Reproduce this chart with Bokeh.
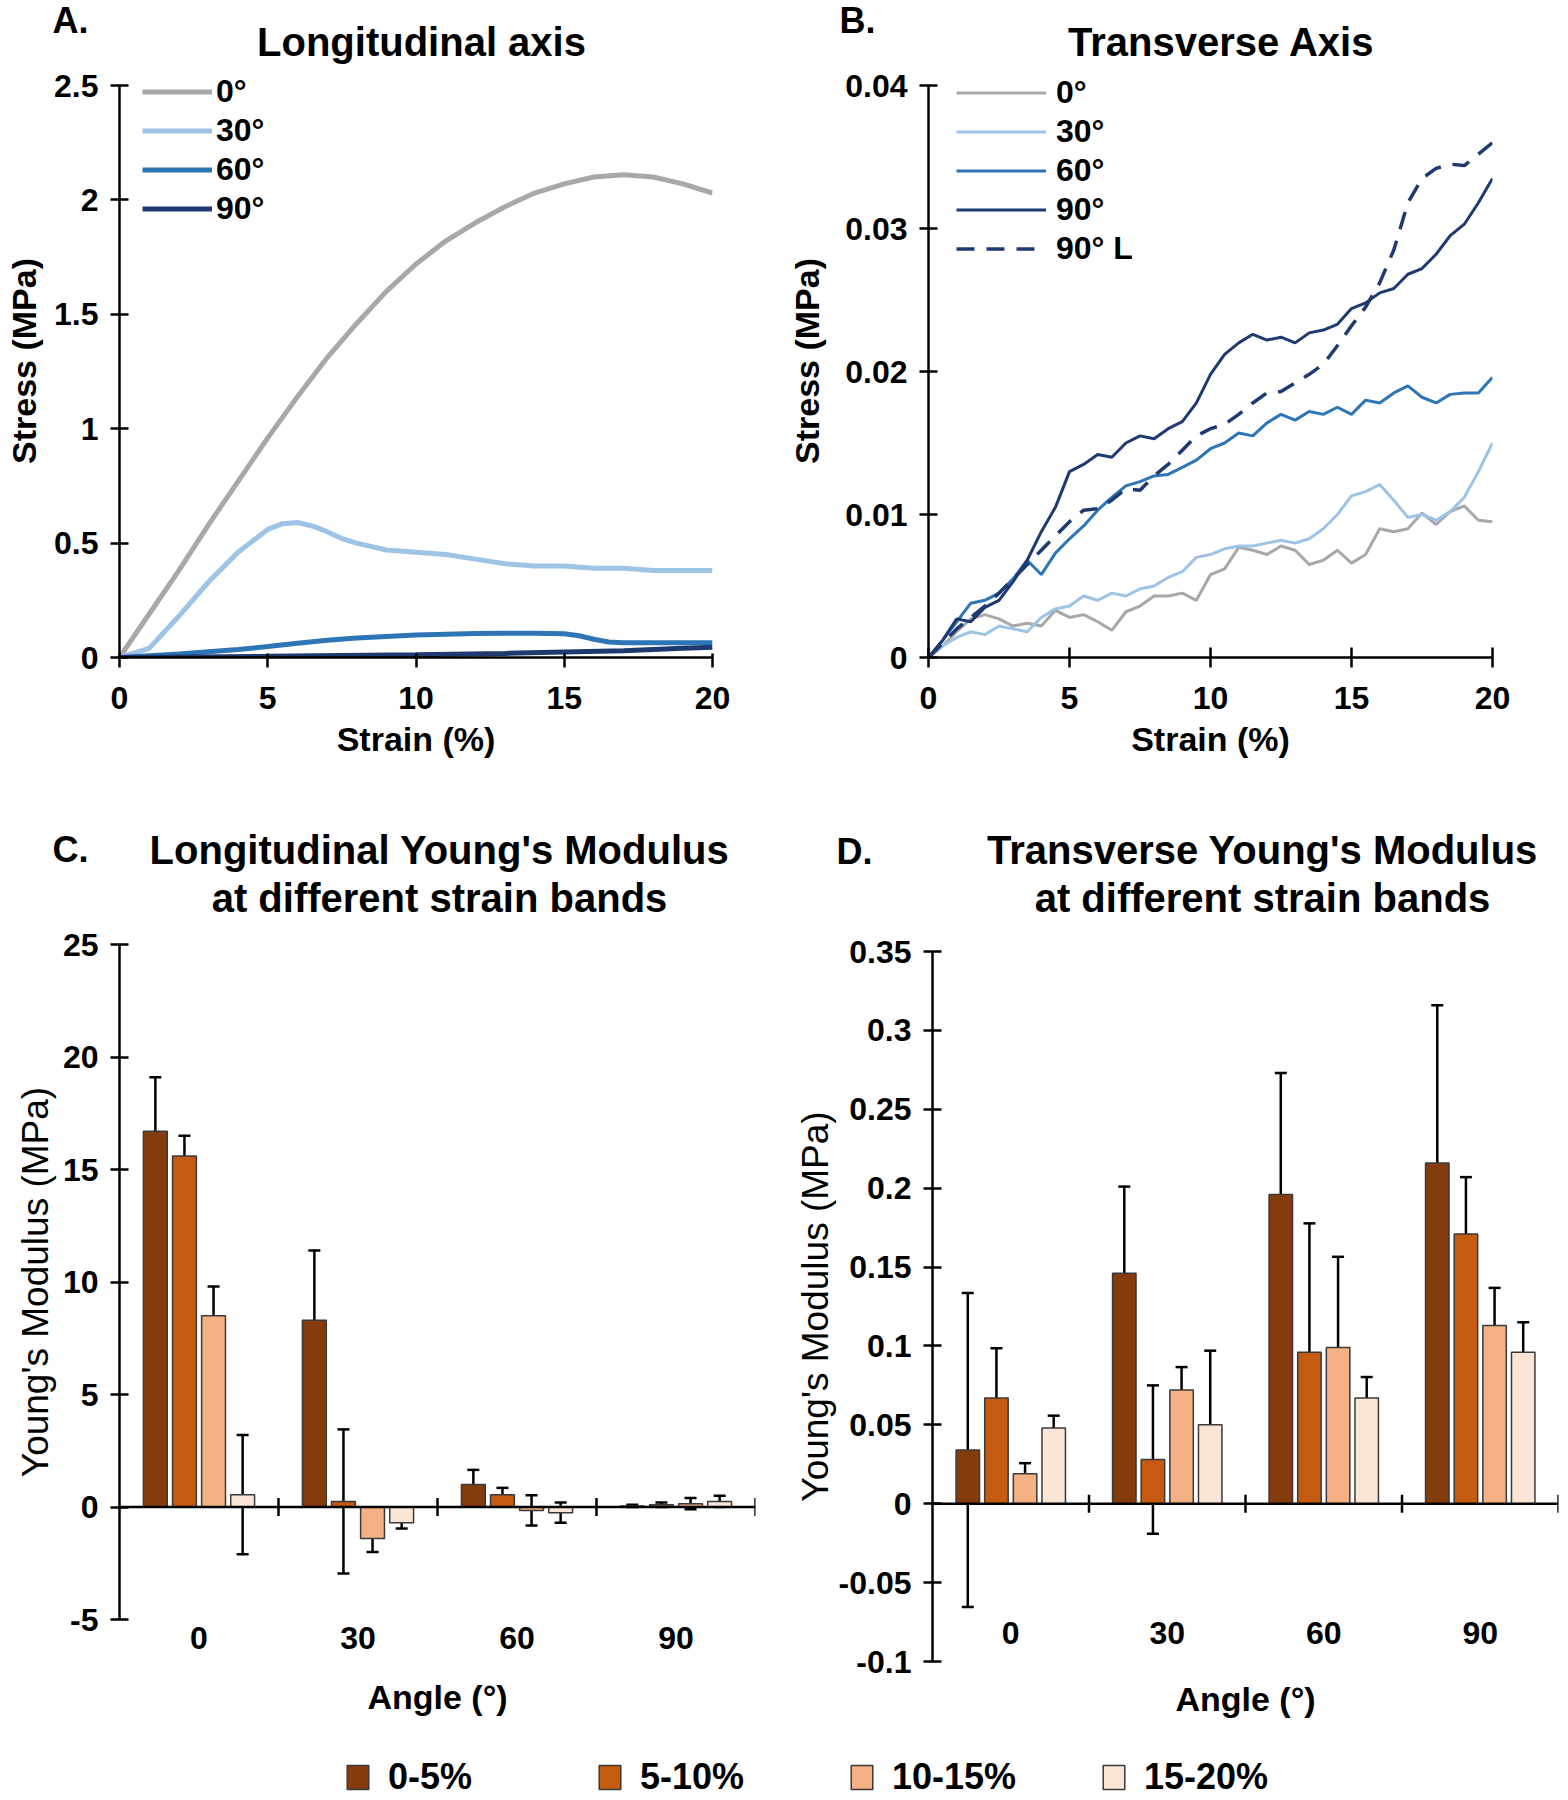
import math
from bokeh.plotting import figure
from bokeh.layouts import column, row
from bokeh.models import (Range1d, FixedTicker, Legend, LegendItem, Span,
                          ColumnDataSource, Whisker, TeeHead, LinearAxis)
from bokeh.transform import dodge
from bokeh.embed import file_html
from bokeh.resources import INLINE
from bokeh.core.properties import value

FONT = "Liberation Sans"

# ---------------- data: panel A (longitudinal stress-strain) ----------------
A_SERIES = ["0°", "30°", "60°", "90°"]
A0_X = [0, 1, 2, 3, 4, 5, 6, 7, 8, 9, 10, 11, 12, 13, 14, 15, 16, 17, 18, 19, 20]
A0_Y = [0, 0.19, 0.38, 0.58, 0.77, 0.96, 1.14, 1.31, 1.46, 1.60, 1.72, 1.82, 1.90,
        1.97, 2.03, 2.07, 2.10, 2.11, 2.10, 2.07, 2.03]
A30_X = [0, 1, 2, 3, 4, 5, 5.5, 6, 6.5, 7, 7.5, 8, 9, 10, 11, 12, 13, 14, 15, 16, 17, 18, 19, 20]
A30_Y = [0, 0.04, 0.18, 0.33, 0.46, 0.56, 0.585, 0.59, 0.575, 0.55, 0.52, 0.50, 0.47,
         0.46, 0.45, 0.43, 0.41, 0.40, 0.40, 0.39, 0.39, 0.38, 0.38, 0.38]
A60_X = [0, 2, 4, 5, 6, 7, 8, 9, 10, 11, 12, 13, 14, 15, 15.5, 16, 16.5, 17, 18, 19, 20]
A60_Y = [0, 0.015, 0.035, 0.048, 0.062, 0.075, 0.085, 0.092, 0.098, 0.102, 0.105, 0.106,
         0.106, 0.104, 0.095, 0.08, 0.068, 0.065, 0.065, 0.065, 0.065]
A90_X = [0, 5, 10, 13, 15, 17, 18, 19, 20]
A90_Y = [0, 0.005, 0.012, 0.018, 0.024, 0.03, 0.035, 0.04, 0.045]

# ---------------- data: panel B (transverse stress-strain) ----------------
B_SERIES = ["0°", "30°", "60°", "90°", "90° L"]
B_X = [0, 0.5, 1, 1.5, 2, 2.5, 3, 3.5, 4, 4.5, 5, 5.5, 6, 6.5, 7, 7.5, 8, 8.5, 9, 9.5, 10,
       10.5, 11, 11.5, 12, 12.5, 13, 13.5, 14, 14.5, 15, 15.5, 16, 16.5, 17, 17.5, 18,
       18.5, 19, 19.5, 20]
B0_Y = [0, 0.0008, 0.0018, 0.0027, 0.0030, 0.0027, 0.0022, 0.0024, 0.0022, 0.0033, 0.0028,
        0.0030, 0.0025, 0.0019, 0.0032, 0.0036, 0.0043, 0.0043, 0.0045, 0.0040, 0.0058,
        0.0062, 0.0077, 0.0075, 0.0072, 0.0078, 0.0075, 0.0065, 0.0068, 0.0075, 0.0066,
        0.0072, 0.0090, 0.0088, 0.0090, 0.0101, 0.0093, 0.0102, 0.0106, 0.0096, 0.0095]
B30_Y = [0, 0.0008, 0.0014, 0.0018, 0.0016, 0.0022, 0.0020, 0.0018, 0.0028, 0.0034, 0.0036,
         0.0043, 0.0040, 0.0045, 0.0043, 0.0048, 0.0050, 0.0056, 0.0060, 0.0070, 0.0072,
         0.0076, 0.0078, 0.0078, 0.0080, 0.0082, 0.0080, 0.0083, 0.0090, 0.0100, 0.0113,
         0.0116, 0.0121, 0.0110, 0.0098, 0.0100, 0.0096, 0.0102, 0.0112, 0.0130, 0.0150]
B60_Y = [0, 0.0012, 0.0025, 0.0038, 0.0040, 0.0045, 0.0055, 0.0068, 0.0058, 0.0073, 0.0083,
         0.0092, 0.0103, 0.0112, 0.0120, 0.0123, 0.0127, 0.0128, 0.0133, 0.0138, 0.0146,
         0.0150, 0.0157, 0.0155, 0.0164, 0.0170, 0.0166, 0.0172, 0.0170, 0.0175, 0.0170,
         0.0180, 0.0178, 0.0185, 0.0190, 0.0182, 0.0178, 0.0184, 0.0185, 0.0185, 0.0196]
B90_Y = [0, 0.0012, 0.0027, 0.0025, 0.0035, 0.0040, 0.0053, 0.0068, 0.0088, 0.0105, 0.0130,
         0.0135, 0.0142, 0.0140, 0.0150, 0.0155, 0.0153, 0.0160, 0.0165, 0.0178, 0.0198,
         0.0212, 0.0220, 0.0226, 0.0222, 0.0224, 0.0220, 0.0227, 0.0229, 0.0233, 0.0244,
         0.0248, 0.0255, 0.0258, 0.0268, 0.0272, 0.0282, 0.0295, 0.0303, 0.0318, 0.0335]
B90L_Y = [0, 0.0010, 0.0020, 0.0028, 0.0036, 0.0045, 0.0055, 0.0065, 0.0075, 0.0085, 0.0095,
          0.0103, 0.0104, 0.0110, 0.0118, 0.0117, 0.0127, 0.0135, 0.0145, 0.0155, 0.0160,
          0.0163, 0.0170, 0.0178, 0.0185, 0.0186, 0.0192, 0.0198, 0.0205, 0.0218, 0.0232,
          0.0245, 0.0262, 0.0285, 0.0318, 0.0335, 0.0342, 0.0345, 0.0344, 0.0352, 0.0360]

# ---------------- data: panels C and D (Young's modulus) ----------------
ANGLES = ["0", "30", "60", "90"]
BANDS = ["0-5%", "5-10%", "10-15%", "15-20%"]
C_MEAN = {
    "0-5%":   [16.7, 8.3, 1.0, 0.05],
    "5-10%":  [15.6, 0.25, 0.55, 0.1],
    "10-15%": [8.5, -1.4, -0.15, 0.15],
    "15-20%": [0.55, -0.7, -0.25, 0.25],
}
C_ERR = {
    "0-5%":   [2.4, 3.1, 0.65, 0.05],
    "5-10%":  [0.9, 3.2, 0.3, 0.1],
    "10-15%": [1.3, 0.6, 0.67, 0.25],
    "15-20%": [2.65, 0.25, 0.45, 0.25],
}
D_MEAN = {
    "0-5%":   [0.034, 0.146, 0.196, 0.216],
    "5-10%":  [0.067, 0.028, 0.096, 0.171],
    "10-15%": [0.019, 0.072, 0.099, 0.113],
    "15-20%": [0.048, 0.050, 0.067, 0.096],
}
D_ERR = {
    "0-5%":   [0.0995, 0.055, 0.077, 0.100],
    "5-10%":  [0.0315, 0.047, 0.0817, 0.036],
    "10-15%": [0.0067, 0.0146, 0.0575, 0.0238],
    "15-20%": [0.0078, 0.047, 0.0133, 0.019],
}

# tick labels
STRAIN_TICKS = [0, 5, 10, 15, 20]
STRAIN_LABELS = ["0", "5", "10", "15", "20"]
A_YTICKS = [0, 0.5, 1, 1.5, 2, 2.5]
A_YLABELS = ["0", "0.5", "1", "1.5", "2", "2.5"]
B_YTICKS = [0, 0.01, 0.02, 0.03, 0.04]
B_YLABELS = ["0", "0.01", "0.02", "0.03", "0.04"]
C_YTICKS = [-5, 0, 5, 10, 15, 20, 25]
C_YLABELS = ["-5", "0", "5", "10", "15", "20", "25"]
D_YTICKS = [-0.1, -0.05, 0, 0.05, 0.1, 0.15, 0.2, 0.25, 0.3, 0.35]
D_YLABELS = ["-0.1", "-0.05", "0", "0.05", "0.1", "0.15", "0.2", "0.25", "0.3", "0.35"]

# ---------------- styles ----------------
LINE_COLORS = ["#A8A8A8", "#9DC3E6", "#2E75B6", "#1F3A70"]
BAR_COLORS = ["#843C0C", "#C55A11", "#F4B183", "#FBE5D6"]
BAR_OFFSETS = [-0.2745, -0.0915, 0.0915, 0.2745]
BAR_WIDTH = 0.15
TITLE_SIZE = "40px"
LETTER_SIZE = "36px"


def base_fig(width, height, xr, yr, l, r, t, b):
    p = figure(width=width, height=height, x_range=xr, y_range=yr,
               output_backend="svg", toolbar_location=None,
               min_border_left=l, min_border_right=r, min_border_top=t,
               min_border_bottom=b, x_axis_type=None, y_axis_type=None)
    p.outline_line_color = None
    p.grid.visible = False
    p.background_fill_color = "white"
    p.border_fill_color = "white"
    p.frame_align = False
    return p


def style_axis(ax, tin, tout, tick_size="32px", lab_size="34px", lab_style="bold"):
    ax.axis_line_color = "black"
    ax.axis_line_width = 2.5
    ax.major_tick_line_color = "black"
    ax.major_tick_line_width = 2.5
    ax.major_tick_in = tin
    ax.major_tick_out = tout
    ax.minor_tick_line_color = None
    ax.major_label_text_font = FONT
    ax.major_label_text_font_style = "bold"
    ax.major_label_text_font_size = tick_size
    ax.major_label_text_color = "black"
    ax.axis_label_text_font = FONT
    ax.axis_label_text_font_style = lab_style
    ax.axis_label_text_font_size = lab_size
    ax.axis_label_text_color = "black"


def header(width, height, texts):
    """text-only strip; its ranges are in pixels (y downwards)."""
    p = base_fig(width, height, Range1d(0, width), Range1d(height, 0), 0, 0, 0, 0)
    for x, y, txt, size, align in texts:
        p.text(x=[x], y=[y], text=[txt], text_font=value(FONT), text_font_style="bold",
               text_font_size=size, text_align=align, text_baseline="alphabetic",
               text_color="black")
    return p


def stress_axes(p, yticks, ylabels, ylab_standoff, xtin):
    xa = LinearAxis(ticker=FixedTicker(ticks=STRAIN_TICKS),
                    major_label_overrides=dict(zip(STRAIN_TICKS, STRAIN_LABELS)),
                    axis_label="Strain (%)")
    style_axis(xa, xtin, 10)
    xa.major_label_standoff = 19
    xa.axis_label_standoff = 8
    p.add_layout(xa, "below")
    ya = LinearAxis(ticker=FixedTicker(ticks=yticks),
                    major_label_overrides=dict(zip(yticks, ylabels)),
                    axis_label="Stress (MPa)", bounds=(yticks[0], yticks[-1]))
    style_axis(ya, 9, 9)
    ya.major_label_standoff = 12
    ya.axis_label_standoff = ylab_standoff
    p.add_layout(ya, "left")


# geometry (pixels) of the top row
TOP_H = 64            # header strip
ROW1_H = 706          # stress-strain plots
FRAME_TOP_PAD = 21    # gap between frame top and the top tick
ROW1_BOTTOM = 113


def padded_range(lo, hi, axis_px, pad_px):
    return Range1d(lo, hi + (hi - lo) * pad_px / axis_px)


axis_px_1 = ROW1_H - ROW1_BOTTOM - FRAME_TOP_PAD

hdr_top = header(1568, TOP_H, [
    (52, 20, "A.", LETTER_SIZE, "left"),
    (421, 41, "Longitudinal axis", TITLE_SIZE, "center"),
    (839, 20, "B.", LETTER_SIZE, "left"),
    (1221, 41, "Transverse Axis", TITLE_SIZE, "center"),
])

# ---------------- Panel A ----------------
pA = base_fig(784, ROW1_H, Range1d(0, 20),
              padded_range(A_YTICKS[0], A_YTICKS[-1], axis_px_1, FRAME_TOP_PAD),
              119, 72, 0, ROW1_BOTTOM)
stress_axes(pA, A_YTICKS, A_YLABELS, 8, 4)
a_items = []
for name, xs, ys, c in zip(A_SERIES, [A0_X, A30_X, A60_X, A90_X],
                           [A0_Y, A30_Y, A60_Y, A90_Y], LINE_COLORS):
    r = pA.line(xs, ys, line_color=c, line_width=5)
    a_items.append(LegendItem(label=name, renderers=[r]))
legA = Legend(items=a_items, location=(23, 429.5), glyph_width=70, glyph_height=39,
              label_height=39, spacing=0, padding=0, margin=0, label_standoff=4,
              border_line_color=None, background_fill_alpha=0,
              label_text_font=FONT, label_text_font_style="bold",
              label_text_font_size="32px", label_text_color="black")
pA.add_layout(legA)

# ---------------- Panel B ----------------
pB = base_fig(784, ROW1_H, Range1d(0, 20),
              padded_range(B_YTICKS[0], B_YTICKS[-1], axis_px_1, FRAME_TOP_PAD),
              144, 76, 0, ROW1_BOTTOM)
stress_axes(pB, B_YTICKS, B_YLABELS, 16, 10)
b_items = []
for name, ys, c, dash in zip(B_SERIES, [B0_Y, B30_Y, B60_Y, B90_Y, B90L_Y],
                             LINE_COLORS + [LINE_COLORS[3]],
                             ["solid"] * 4 + ["18 12"]):
    r = pB.line(B_X, ys, line_color=c, line_width=3.5 if dash != "solid" else 3,
                line_dash=dash)
    b_items.append(LegendItem(label=name, renderers=[r]))
legB = Legend(items=b_items, location=(28, 389.5), glyph_width=90, glyph_height=39,
              label_height=39, spacing=0, padding=0, margin=0, label_standoff=10,
              border_line_color=None, background_fill_alpha=0,
              label_text_font=FONT, label_text_font_style="bold",
              label_text_font_size="32px", label_text_color="black")
pB.add_layout(legB)

# ---------------- Panels C and D ----------------
BOT_HDR_H = 150
ROW2_H = 805

hdr_bot = header(1568, BOT_HDR_H, [
    (52, 79, "C.", LETTER_SIZE, "left"),
    (439, 79, "Longitudinal Young's Modulus", TITLE_SIZE, "center"),
    (439, 127, "at different strain bands", TITLE_SIZE, "center"),
    (836, 81, "D.", LETTER_SIZE, "left"),
    (1262, 79, "Transverse Young's Modulus", TITLE_SIZE, "center"),
    (1262, 127, "at different strain bands", TITLE_SIZE, "center"),
])


def make_source(mean, err):
    data = {"pos": [i + 0.5 for i in range(len(ANGLES))], "angle": ANGLES}
    for b in BANDS:
        data[b] = mean[b]
        data[b + "_u"] = [m + e for m, e in zip(mean[b], err[b])]
        data[b + "_l"] = [m - e for m, e in zip(mean[b], err[b])]
    return ColumnDataSource(data)


def modulus_panel(src, ymin, ymax, yticks, ylabels, borders, ylab_standoff):
    n = len(ANGLES)
    p = base_fig(784, ROW2_H, Range1d(0, n), Range1d(ymin, ymax), *borders)
    # zero line with category separators
    p.add_layout(Span(location=0, dimension="width", line_color="black", line_width=2.5))
    for b, off, c in zip(BANDS, BAR_OFFSETS, BAR_COLORS):
        p.vbar(x=dodge("pos", off, range=p.x_range), top=b, bottom=0, width=BAR_WIDTH,
               source=src, fill_color=c, line_color="#3A3A3A", line_width=1.5)
    for b, off in zip(BANDS, BAR_OFFSETS):
        w = Whisker(source=src, base=dodge("pos", off, range=p.x_range),
                    upper=b + "_u", lower=b + "_l", dimension="height",
                    line_color="black", line_width=2.5,
                    upper_head=TeeHead(size=12, line_color="black", line_width=2.5),
                    lower_head=TeeHead(size=12, line_color="black", line_width=2.5))
        p.add_layout(w)
    bounds = list(range(1, n + 1))
    p.scatter(x=bounds, y=[0] * n, marker="dash", angle=math.pi / 2, size=18,
              line_color="black", line_width=2.5)
    ya = LinearAxis(ticker=FixedTicker(ticks=yticks),
                    major_label_overrides=dict(zip(yticks, ylabels)),
                    axis_label="Young's Modulus (MPa)")
    style_axis(ya, 9, 9, lab_size="37px", lab_style="normal")
    ya.major_label_standoff = 12
    ya.axis_label_standoff = ylab_standoff
    p.add_layout(ya, "left")
    return p


srcC = make_source(C_MEAN, C_ERR)
srcD = make_source(D_MEAN, D_ERR)

pC = modulus_panel(srcC, -5, 25, C_YTICKS, C_YLABELS, (119, 29, 24, 106), 4)
xaC = LinearAxis(ticker=FixedTicker(ticks=srcC.data["pos"]),
                 major_label_overrides=dict(zip(srcC.data["pos"], ANGLES)),
                 axis_label="Angle (°)")
style_axis(xaC, 0, 0)
xaC.axis_line_color = None
xaC.major_tick_line_color = None
xaC.major_label_standoff = 7
xaC.axis_label_standoff = 26
pC.add_layout(xaC, "below")

D_BORDERS = (148, 10, 31, 64)
pD = modulus_panel(srcD, -0.1, 0.35, D_YTICKS, D_YLABELS, D_BORDERS, 0)
# category names sit inside the frame, just above its bottom edge
d_frame_px = ROW2_H - D_BORDERS[2] - D_BORDERS[3]
d_label_y = -0.1 + (0.35 - (-0.1)) * 29 / d_frame_px
pD.text(x="pos", y=d_label_y, text="angle", source=srcD, text_font=value(FONT),
        text_font_style="bold", text_font_size="32px", text_align="center",
        text_baseline="middle", text_color="black")
xaD = LinearAxis(ticker=FixedTicker(ticks=[]), axis_label="Angle (°)")
style_axis(xaD, 0, 0)
xaD.axis_line_color = None
xaD.major_tick_line_color = None
xaD.axis_label_standoff = 18
pD.add_layout(xaD, "below")

# ---------------- shared legend ----------------
pL = base_fig(1568, 73, Range1d(0, 1), Range1d(0, 1), 344, 0, 30, 0)
l_items = []
for b, off, c in zip(BANDS, BAR_OFFSETS, BAR_COLORS):
    r = pL.vbar(x=dodge("pos", off, range=pL.x_range), top=b, width=BAR_WIDTH,
                source=srcC, fill_color=c, line_color="#3A3A3A", line_width=1.5)
    r.visible = False
    l_items.append(LegendItem(label=b, renderers=[r]))
legL = Legend(items=l_items, location="center_left", orientation="horizontal",
              glyph_width=27, glyph_height=30, label_standoff=17, spacing=80,
              label_width=128, padding=0, margin=0, border_line_color=None,
              background_fill_alpha=0, inactive_fill_alpha=0,
              label_text_font=FONT, label_text_font_style="bold",
              label_text_font_size="36px", label_text_color="black")
pL.add_layout(legL)

layout = column(hdr_top, row(pA, pB), hdr_bot, row(pC, pD), pL)
open("out.html", "w").write(file_html(layout, INLINE))
